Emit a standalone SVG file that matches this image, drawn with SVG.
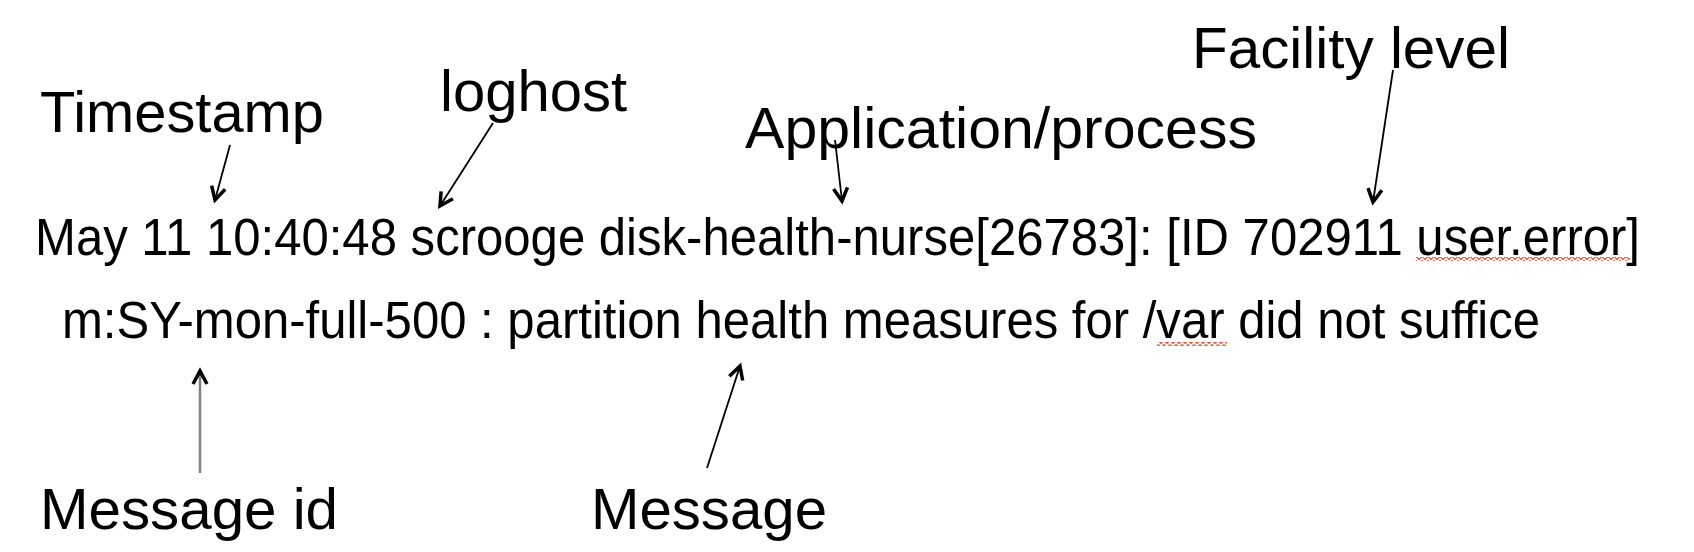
<svg xmlns="http://www.w3.org/2000/svg" width="1694" height="552" viewBox="0 0 1694 552">
<style>
text{font-family:"Liberation Sans",Arial,sans-serif;fill:#000}
.lbl{font-size:57px}
.log{font-size:51px}
.c{fill:none;stroke:#000;stroke-width:1.8}
.g{stroke:#808080;stroke-width:2.5}
</style>
<defs>
<marker id="ah" viewBox="0 0 14 14" refX="12" refY="7" markerWidth="14" markerHeight="14" markerUnits="userSpaceOnUse" orient="auto" overflow="visible">
<path d="M-1,0 L12,7 L-1,14" fill="none" stroke="#000" stroke-width="3.5" stroke-linejoin="miter"/>
</marker>
<pattern id="sq" x="0" y="0" width="6" height="4" patternUnits="userSpaceOnUse">
<path d="M0,0.5 L3,3.5 L6,0.5" fill="none" stroke="#ee4b32" stroke-width="1.2"/>
</pattern>
</defs>
<rect width="1694" height="552" fill="#fff"/>
<g id="log-line1"><text class="log" x="35" y="255" textLength="1605" lengthAdjust="spacingAndGlyphs">May 11 10:40:48 scrooge disk-health-nurse[26783]: [ID 702911 user.error]</text>
<rect x="1416" y="257" width="214" height="4" fill="url(#sq)"/></g>
<g id="log-line2"><text class="log" x="62" y="338" textLength="1478" lengthAdjust="spacingAndGlyphs">m:SY-mon-full-500 : partition health measures for /var did not suffice</text>
<rect x="1157" y="342" width="70" height="4" fill="url(#sq)"/></g>
<g id="timestamp"><text class="lbl" x="40" y="132" textLength="284" lengthAdjust="spacingAndGlyphs">Timestamp</text></g>
<g id="loghost"><text class="lbl" x="440" y="111" textLength="187" lengthAdjust="spacingAndGlyphs">loghost</text></g>
<g id="application"><text class="lbl" x="745" y="148" textLength="512" lengthAdjust="spacingAndGlyphs">Application/process</text></g>
<g id="facility"><text class="lbl" x="1192" y="68" textLength="318" lengthAdjust="spacingAndGlyphs">Facility level</text></g>
<g id="message-id"><text class="lbl" x="40" y="529" textLength="298" lengthAdjust="spacingAndGlyphs">Message id</text></g>
<g id="message"><text class="lbl" x="591" y="529" textLength="236" lengthAdjust="spacingAndGlyphs">Message</text></g>
<g id="connectors">
<line class="c" x1="230" y1="145" x2="215" y2="200" marker-end="url(#ah)"/>
<line class="c" x1="493" y1="123" x2="440" y2="206" marker-end="url(#ah)"/>
<line class="c" x1="835" y1="140" x2="842" y2="201" marker-end="url(#ah)"/>
<line class="c" x1="1393" y1="70" x2="1373" y2="202" marker-end="url(#ah)"/>
<line class="c g" x1="200" y1="473" x2="200" y2="371" marker-end="url(#ah)"/>
<line class="c" x1="707" y1="468" x2="740" y2="366" marker-end="url(#ah)"/>
</g>
</svg>
